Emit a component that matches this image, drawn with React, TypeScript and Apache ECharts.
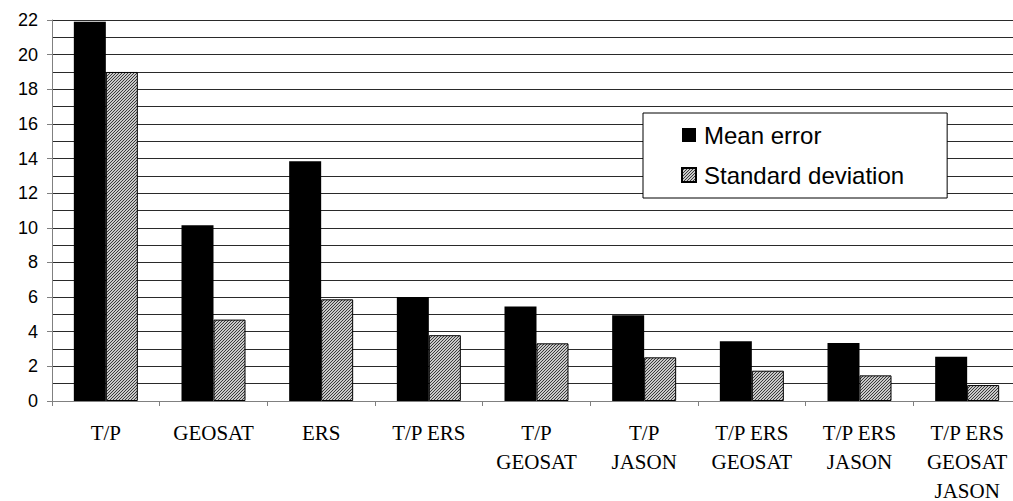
import React, { useEffect, useRef } from "react";
import * as echarts from "echarts";

const categories = [
  "T/P",
  "GEOSAT",
  "ERS",
  "T/P ERS",
  "T/P\nGEOSAT",
  "T/P\nJASON",
  "T/P ERS\nGEOSAT",
  "T/P ERS\nJASON",
  "T/P ERS\nGEOSAT\nJASON",
];
const meanError = [21.9, 10.15, 13.85, 6.0, 5.45, 4.95, 3.45, 3.35, 2.55];
const stdDeviation = [19.0, 4.7, 5.87, 3.8, 3.33, 2.52, 1.75, 1.48, 0.92];
const seriesNames = ["Mean error", "Standard deviation"];

function makeHatch(): HTMLCanvasElement {
  const c = document.createElement("canvas");
  c.width = 3;
  c.height = 3;
  const ctx = c.getContext("2d")!;
  ctx.fillStyle = "#c8c8c8";
  ctx.fillRect(0, 0, 3, 3);
  ctx.fillStyle = "#3a3a3a";
  ctx.fillRect(2, 0, 1, 1);
  ctx.fillRect(1, 1, 1, 1);
  ctx.fillRect(0, 2, 1, 1);
  return c;
}

export default function App() {
  const ref = useRef<HTMLDivElement>(null);
  useEffect(() => {
    if (!ref.current) return;
    const chart = echarts.init(ref.current, null, { renderer: "svg" });
    const hatch = makeHatch();
    chart.setOption({
      animation: false,
      backgroundColor: "#ffffff",
      grid: {
        left: 52,
        right: -8,
        top: 20,
        bottom: 100,
        containLabel: false,
        outerBoundsMode: "none",
      },
      legend: {
        orient: "vertical",
        left: 643,
        top: 113,
        backgroundColor: "#ffffff",
        borderColor: "#000000",
        borderWidth: 1,
        borderRadius: 0,
        padding: [10, 43, 11, 38],
        itemGap: 16,
        itemWidth: 14,
        itemHeight: 14,
        icon: "rect",
        textStyle: {
          fontFamily: "Arial, 'Liberation Sans', sans-serif",
          fontSize: 24,
          color: "#000000",
          padding: [0, 0, 0, 3],
        },
        data: seriesNames,
      },
      xAxis: {
        type: "category",
        data: categories,
        axisLine: { lineStyle: { color: "#808080", width: 1 } },
        axisTick: { show: true, length: 5, lineStyle: { color: "#808080" } },
        axisLabel: {
          interval: 0,
          fontFamily: "'Times New Roman', 'Liberation Serif', serif",
          fontSize: 21,
          lineHeight: 29,
          color: "#000000",
          margin: 17,
        },
        splitLine: { show: false },
      },
      yAxis: {
        type: "value",
        min: 0,
        max: 22,
        interval: 2,
        axisLine: { show: true, lineStyle: { color: "#808080", width: 1 } },
        axisTick: { show: true, length: 5, lineStyle: { color: "#808080" } },
        axisLabel: {
          fontFamily: "Arial, 'Liberation Sans', sans-serif",
          fontSize: 18,
          color: "#000000",
          margin: 14,
        },
        splitLine: { show: true, lineStyle: { color: "#2a2a2a", width: 1 } },
        minorTick: { show: false, splitNumber: 2 },
        minorSplitLine: { show: true, lineStyle: { color: "#2a2a2a", width: 1 } },
      },
      series: [
        {
          name: seriesNames[0],
          type: "bar",
          data: meanError,
          barWidth: 32,
          barGap: "0%",
          itemStyle: { color: "#000000", borderColor: "#000000", borderWidth: 0 },
        },
        {
          name: seriesNames[1],
          type: "bar",
          data: stdDeviation,
          barWidth: 32,
          barGap: "0%",
          itemStyle: {
            color: { image: hatch, repeat: "repeat" },
            borderColor: "#000000",
            borderWidth: 1,
          },
        },
      ],
    });
    return () => chart.dispose();
  }, []);
  return (
    <div
      ref={ref}
      style={{ position: "fixed", left: 0, top: 0, width: 1013, height: 501 }}
    />
  );
}
